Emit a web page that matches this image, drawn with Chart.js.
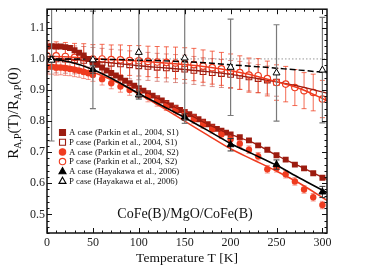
<!DOCTYPE html>
<html>
<head>
<meta charset="utf-8">
<script src="https://cdn.jsdelivr.net/npm/chart.js@4.4.1/dist/chart.umd.min.js"></script>
<style>
  html, body { margin: 0; padding: 0; background: #fff; }
</style>
</head>
<body>
<canvas id="myChart" width="374" height="280"></canvas>
<script>
'use strict';
const SERIF = '"Liberation Serif", "DejaVu Serif", serif';

const xTicks = [0, 50, 100, 150, 200, 250, 300];
const yTicks = [0.5, 0.6, 0.7, 0.8, 0.9, 1.0, 1.1];

const legendLabels = [
  'A case (Parkin et al., 2004, S1)',
  'P case (Parkin et al., 2004, S1)',
  'A case (Parkin et al., 2004, S2)',
  'P case (Parkin et al., 2004, S2)',
  'A case (Hayakawa et al., 2006)',
  'P case (Hayakawa et al., 2006)',
];

// Parkin S1, A case (filled squares)
const aS1T = [0, 5, 10, 15, 20, 25, 30, 35, 40, 45, 50, 55, 60, 65, 70, 75, 80, 85, 90, 95,
  100, 105, 110, 115, 120, 125, 130, 135, 140, 145, 150, 155, 160, 165, 170, 175, 180, 185, 190, 195,
  200, 210, 220, 230, 240, 250, 260, 270, 280, 290, 300];
const aS1R = [1.040, 1.041, 1.040, 1.040, 1.038, 1.035, 1.028, 1.020, 1.011, 1.000,
  0.990, 0.981, 0.972, 0.963, 0.955, 0.947, 0.939, 0.930, 0.922, 0.914,
  0.906, 0.898, 0.890, 0.882, 0.874, 0.866, 0.858, 0.850, 0.843, 0.836,
  0.829, 0.822, 0.814, 0.806, 0.798, 0.790, 0.782, 0.775, 0.769, 0.763,
  0.757, 0.748, 0.738, 0.722, 0.708, 0.690, 0.676, 0.660, 0.648, 0.632, 0.618];

// Parkin S1, P case (open squares)
const pS1T = [0, 10, 20, 30, 40, 50, 60, 70, 80, 90, 100, 110, 120, 130, 140, 150, 160, 170, 180, 190,
  200, 210, 220, 230, 240, 250];
const pS1R = [1.000, 1.000, 0.999, 0.997, 0.995, 0.992, 0.989, 0.986, 0.984, 0.981,
  0.978, 0.976, 0.973, 0.971, 0.969, 0.967, 0.963, 0.959, 0.956, 0.953,
  0.950, 0.947, 0.942, 0.937, 0.932, 0.925];
const pS1E = [0.045, 0.045, 0.045, 0.045, 0.045, 0.045, 0.045, 0.045, 0.045, 0.045,
  0.045, 0.045, 0.045, 0.045, 0.045, 0.045, 0.045, 0.045, 0.045, 0.045,
  0.045, 0.045, 0.045, 0.045, 0.045, 0.045];

// Parkin S2, A case (filled circles)
const aS2T = [0, 5, 10, 15, 20, 25, 30, 35, 40, 45, 50, 60, 70, 80, 90, 100, 110, 120, 130, 140,
  150, 160, 170, 180, 190, 200, 210, 220, 230, 240, 250, 260, 270, 280, 290, 300];
const aS2R = [0.975, 0.975, 0.972, 0.972, 0.970, 0.968, 0.965, 0.962, 0.958, 0.954, 0.948,
  0.935, 0.922, 0.911, 0.900, 0.892, 0.878, 0.863, 0.849, 0.835,
  0.822, 0.806, 0.790, 0.774, 0.757, 0.742, 0.727, 0.708, 0.687, 0.645,
  0.648, 0.629, 0.606, 0.580, 0.555, 0.530];
const aS2E = [0.024, 0.024, 0.024, 0.023, 0.023, 0.022, 0.022, 0.021, 0.021, 0.020, 0.020,
  0.019, 0.018, 0.018, 0.017, 0.016, 0.016, 0.015, 0.015, 0.014,
  0.014, 0.014, 0.013, 0.013, 0.013, 0.013, 0.012, 0.012, 0.012, 0.012,
  0.012, 0.012, 0.012, 0.012, 0.012, 0.012];

// Parkin S2, P case (open circles)
const pS2T = [0, 10, 20, 30, 40, 50, 60, 70, 80, 90, 100, 110, 120, 130, 140, 150, 160, 170, 180, 190,
  200, 210, 220, 230, 240, 250, 260, 270, 280, 290, 300];
const pS2R = [1.010, 1.010, 1.008, 1.005, 1.003, 1.000, 1.000, 0.998, 0.997, 0.995,
  0.994, 0.992, 0.990, 0.989, 0.987, 0.985, 0.982, 0.977, 0.972, 0.968,
  0.962, 0.956, 0.948, 0.946, 0.937, 0.924, 0.919, 0.908, 0.898, 0.892, 0.871];
const pS2E = [0.045, 0.045, 0.045, 0.045, 0.046, 0.046, 0.047, 0.047, 0.048, 0.048,
  0.049, 0.049, 0.050, 0.050, 0.051, 0.051, 0.052, 0.052, 0.053, 0.053,
  0.054, 0.054, 0.055, 0.055, 0.056, 0.057, 0.057, 0.058, 0.058, 0.059, 0.060];

// Hayakawa 2006 (triangles)
const hayT = [5, 50, 100, 150, 200, 250, 300];
const hayAR = [1.000, 0.966, 0.884, 0.813, 0.724, 0.660, 0.572];
const hayAE = [0.008, 0.012, 0.013, 0.010, 0.020, 0.015, 0.018];
const hayPR = [0.996, 0.997, 1.021, 1.003, 0.973, 0.955, 0.964];
const hayPE = [0.26, 0.157, 0.14, 0.21, 0.155, 0.155, 0.17];

// fitted curves
const fitT = [0, 25, 50, 75, 100, 125, 150, 175, 200, 225, 250, 275, 305];
const fitHayA = [1.000, 0.990, 0.966, 0.930, 0.889, 0.850, 0.811, 0.770, 0.728, 0.693, 0.658, 0.617, 0.570];
const fitHayP = [1.000, 1.000, 0.999, 0.998, 0.996, 0.994, 0.991, 0.987, 0.981, 0.976, 0.970, 0.964, 0.956];
const fitAS1 = [1.041, 1.036, 0.992, 0.947, 0.906, 0.866, 0.829, 0.790, 0.757, 0.730, 0.690, 0.655, 0.612];
const fitAS2 = [0.982, 0.976, 0.957, 0.926, 0.887, 0.845, 0.800, 0.755, 0.711, 0.675, 0.639, 0.600, 0.545];
const fitPS1 = [1.000, 0.999, 0.993, 0.986, 0.978, 0.972, 0.966, 0.959, 0.950, 0.939, 0.926, 0.912, 0.890];
const fitPS2 = [1.008, 1.006, 1.001, 0.997, 0.993, 0.988, 0.982, 0.974, 0.962, 0.947, 0.927, 0.905, 0.866];
const refT = [0, 305];
const refR = [1, 1];

const DARK_RED = '#9c1c10';
const RED = '#ef3b1f';

function pts(xs, ys) {
  return xs.map((x, i) => ({x: x, y: ys[i]}));
}

function fitLine(ys, color, width, dash, order) {
  return {
    data: pts(fitT, ys), showLine: true, borderColor: color, borderWidth: width,
    borderDash: dash || [], pointRadius: 0, cubicInterpolationMode: 'monotone', order: order,
  };
}

const errorBars = {
  id: 'errorBars',
  beforeDatasetDraw(chart, args) {
    const ds = chart.data.datasets[args.index];
    if (!ds.errors) return;
    const ctx = chart.ctx, a = chart.chartArea, y = chart.scales.y;
    ctx.save();
    ctx.beginPath();
    ctx.rect(a.left, a.top, a.right - a.left, a.bottom - a.top);
    ctx.clip();
    ctx.strokeStyle = ds.errorColor;
    ctx.lineWidth = ds.errorWidth || 1;
    const c = ds.capWidth || 2;
    args.meta.data.forEach((pt, i) => {
      const v = ds.data[i].y, e = ds.errors[i];
      const y1 = y.getPixelForValue(v + e), y2 = y.getPixelForValue(v - e);
      ctx.beginPath();
      ctx.moveTo(pt.x, y1); ctx.lineTo(pt.x, y2);
      ctx.moveTo(pt.x - c, y1); ctx.lineTo(pt.x + c, y1);
      ctx.moveTo(pt.x - c, y2); ctx.lineTo(pt.x + c, y2);
      ctx.stroke();
    });
    ctx.restore();
  }
};

function marker(ctx, shape, x, y, fill, stroke) {
  ctx.beginPath();
  if (shape === 'rect') ctx.rect(x - 3, y - 3, 6, 6);
  else if (shape === 'circle') ctx.arc(x, y, 3.2, 0, Math.PI * 2);
  else {
    ctx.moveTo(x, y - 3.8); ctx.lineTo(x + 3.5, y + 2.4); ctx.lineTo(x - 3.5, y + 2.4); ctx.closePath();
  }
  ctx.fillStyle = fill; ctx.fill();
  ctx.lineWidth = 1.1; ctx.strokeStyle = stroke; ctx.stroke();
}

const decorations = {
  id: 'decorations',
  afterDatasetsDraw(chart) {
    const ctx = chart.ctx, a = chart.chartArea, x = chart.scales.x, y = chart.scales.y;
    ctx.save();
    // inward ticks on all sides
    ctx.strokeStyle = '#111';
    ctx.lineWidth = 1;
    ctx.beginPath();
    for (let t = 0; t <= 305; t += 10) {
      const px = Math.round(x.getPixelForValue(t)) + 0.5;
      const len = t % 50 === 0 ? 5 : 2.5;
      ctx.moveTo(px, a.bottom); ctx.lineTo(px, a.bottom - len);
      ctx.moveTo(px, a.top); ctx.lineTo(px, a.top + len);
    }
    for (let k = 22; k <= 58; k++) {
      const py = Math.round(y.getPixelForValue(k / 50)) + 0.5;
      const len = k % 5 === 0 ? 5 : 2.5;
      ctx.moveTo(a.left, py); ctx.lineTo(a.left + len, py);
      ctx.moveTo(a.right, py); ctx.lineTo(a.right - len, py);
    }
    ctx.stroke();
    ctx.lineWidth = 1.5;
    ctx.strokeRect(a.left, a.top, a.right - a.left, a.bottom - a.top);

    // legend
    const shapes = [
      ['rect', DARK_RED, DARK_RED], ['rect', '#fff', DARK_RED],
      ['circle', RED, RED], ['circle', '#fff', RED],
      ['triangle', '#000', '#000'], ['triangle', '#fff', '#000'],
    ];
    ctx.font = '8.8px ' + SERIF;
    ctx.textBaseline = 'middle';
    ctx.textAlign = 'left';
    legendLabels.forEach((lab, i) => {
      const ly = 132.5 + i * 9.7;
      marker(ctx, shapes[i][0], 62.5, ly, shapes[i][1], shapes[i][2]);
      ctx.fillStyle = '#111';
      ctx.fillText(lab, 69, ly + 0.5);
    });

    // sample label
    ctx.font = '14px ' + SERIF;
    ctx.textAlign = 'center';
    ctx.fillText('CoFe(B)/MgO/CoFe(B)', 185, 214.5);

    // axis titles
    ctx.font = '13.5px ' + SERIF;
    ctx.fillText('Temperature T [K]', (a.left + a.right) / 2, 258.5);

    const parts = [['R', 0], ['A,P', 1], ['(T)/R', 0], ['A,P', 1], ['(0)', 0]];
    const big = '15px ' + SERIF, small = '10px ' + SERIF;
    ctx.translate(13, 113);
    ctx.rotate(-Math.PI / 2);
    ctx.textAlign = 'left';
    ctx.textBaseline = 'alphabetic';
    let w = 0;
    parts.forEach(p => { ctx.font = p[1] ? small : big; w += ctx.measureText(p[0]).width; });
    let cx = -w / 2;
    parts.forEach(p => {
      ctx.font = p[1] ? small : big;
      ctx.fillText(p[0], cx, p[1] ? 8 : 5);
      cx += ctx.measureText(p[0]).width;
    });
    ctx.restore();
  }
};

const tickFont = {family: SERIF, size: 12};

new Chart(document.getElementById('myChart'), {
  type: 'scatter',
  data: {
    datasets: [
      {data: pts(refT, refR), showLine: true, borderColor: '#999', borderWidth: 1,
        borderDash: [1.5, 2], pointRadius: 0, order: 30},
      {data: pts(pS1T, pS1R), errors: pS1E, errorColor: 'rgba(190,60,50,0.55)', capWidth: 2.5,
        pointStyle: 'rect', pointRadius: 4, backgroundColor: '#fff', borderColor: DARK_RED,
        borderWidth: 1.1, order: 29},
      {data: pts(pS2T, pS2R), errors: pS2E, errorColor: 'rgba(240,60,30,0.75)', capWidth: 2.5,
        pointStyle: 'circle', pointRadius: 3.2, backgroundColor: '#fff', borderColor: RED,
        borderWidth: 1.2, order: 28},
      fitLine(fitPS1, DARK_RED, 1.3, null, 27),
      fitLine(fitPS2, RED, 1.5, null, 26),
      fitLine(fitHayP, '#000', 1.5, [6, 3], 25),
      {data: pts(aS1T, aS1R), pointStyle: 'rect', pointRadius: 4.2, backgroundColor: DARK_RED,
        borderColor: DARK_RED, borderWidth: 0, order: 24},
      {data: pts(aS2T, aS2R), errors: aS2E, errorColor: 'rgba(240,80,60,0.6)', capWidth: 2.5,
        pointStyle: 'circle', pointRadius: 3.2, backgroundColor: RED, borderColor: RED,
        borderWidth: 0, order: 23},
      fitLine(fitAS1, DARK_RED, 1.3, null, 22),
      fitLine(fitAS2, RED, 1.5, null, 21),
      fitLine(fitHayA, '#000', 1.6, null, 20),
      {data: pts(hayT, hayAR), errors: hayAE, errorColor: '#333', capWidth: 3,
        pointStyle: 'triangle', pointRadius: 4, backgroundColor: '#000', borderColor: '#000',
        borderWidth: 1, order: 19},
      {data: pts(hayT, hayPR), errors: hayPE, errorColor: '#7a7a7a', errorWidth: 1.2, capWidth: 3,
        pointStyle: 'triangle', pointRadius: 4, backgroundColor: '#fff', borderColor: '#000',
        borderWidth: 1, order: 18},
    ]
  },
  options: {
    responsive: false,
    animation: false,
    devicePixelRatio: 1,
    layout: {padding: {left: 0, right: 47, top: 5, bottom: 0}},
    plugins: {legend: {display: false}, tooltip: {enabled: false}},
    scales: {
      x: {
        type: 'linear', min: 0, max: 305,
        afterBuildTicks: s => { s.ticks = xTicks.map(v => ({value: v})); },
        afterFit: s => { s.height = 47; },
        grid: {display: false, drawTicks: false},
        border: {display: false},
        ticks: {font: tickFont, color: '#222', padding: 3, maxRotation: 0, autoSkip: false},
      },
      y: {
        type: 'linear', min: 0.44, max: 1.16,
        afterBuildTicks: s => { s.ticks = yTicks.map(v => ({value: v})); },
        afterFit: s => { s.width = 47; },
        grid: {display: false, drawTicks: false},
        border: {display: false},
        ticks: {font: tickFont, color: '#222', padding: 2, autoSkip: false,
          callback: v => v.toFixed(1)},
      }
    }
  },
  plugins: [errorBars, decorations]
});
</script>
</body>
</html>
